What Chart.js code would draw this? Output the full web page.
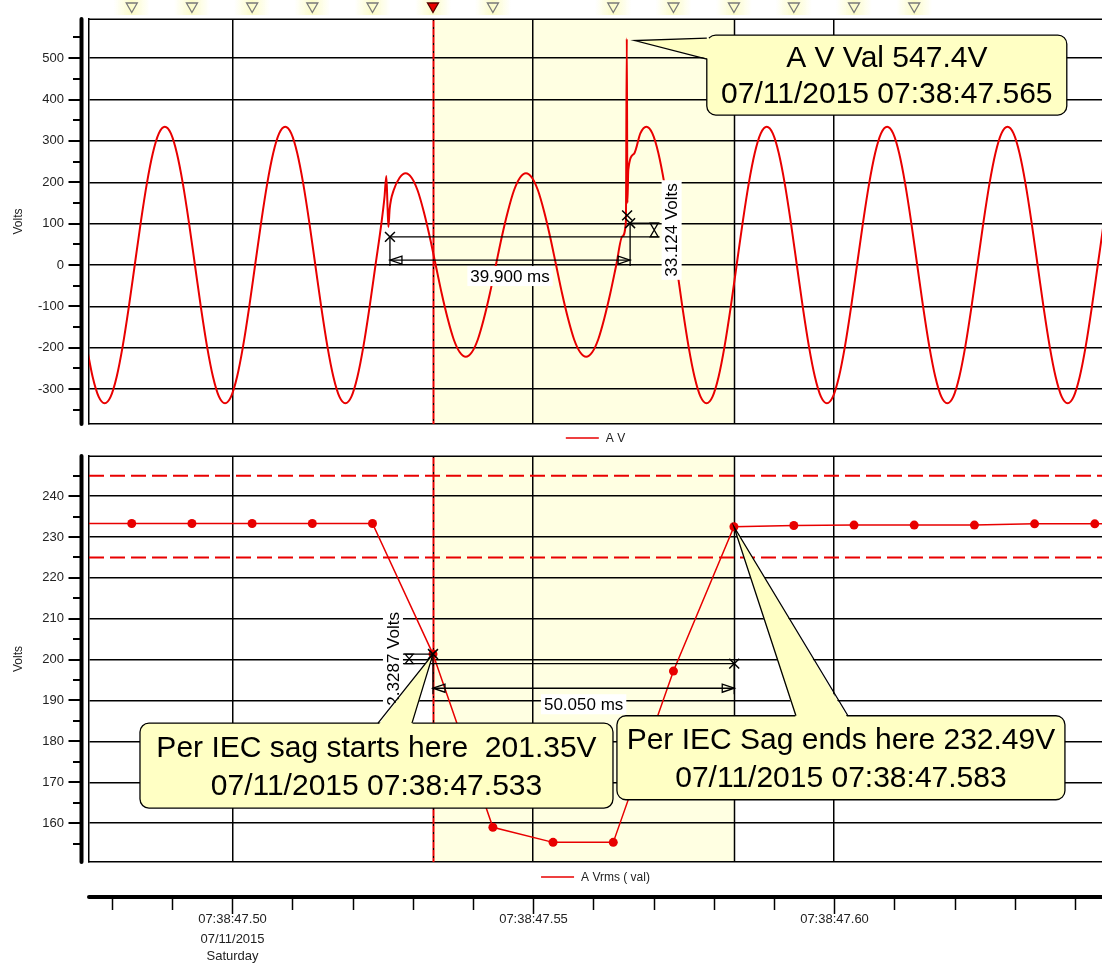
<!DOCTYPE html>
<html>
<head>
<meta charset="utf-8">
<title>A V sag</title>
<script src="https://cdn.jsdelivr.net/npm/chart.js@4.4.1/dist/chart.umd.min.js"></script>
<style>
  body { margin: 0; background: #fff; }
  #page { position: relative; width: 1102px; height: 965px; overflow: hidden; }
  #page canvas { position: absolute; left: 0; }
</style>
</head>
<body>
<div id="page">
  <canvas id="waveChart" width="1102" height="448" style="top:0"></canvas>
  <canvas id="rmsChart" width="1102" height="517" style="top:448px"></canvas>
</div>
<script>
// all times are milliseconds after 07:38:47
const timeMin = 476.2, timeMax = 644.5;
const timeGrid = [500, 550, 600];
const timeMinor = [480, 490, 510, 520, 530, 540, 560, 570, 580, 590, 610, 620, 630, 640];
const timeLabels = [['07:38:47.50', '07/11/2015', 'Saturday'], ['07:38:47.55'], ['07:38:47.60']];

// A V waveform, sampled every 1 ms
const waveStart = 475.8, waveStep = 1;
const waveVolts = [
  -196, -270, -318, -334, -318, -270, -196, -103, 0, 103,
  196, 270, 318, 334, 318, 270, 196, 103, 0, -103,
  -196, -270, -318, -334, -318, -270, -196, -103, 0, 103,
  196, 270, 318, 334, 318, 270, 196, 103, 0, -103,
  -196, -270, -318, -334, -318, -270, -196, -103, 0, 103,
  140, 180, 211, 222, 211, 180, 130, 69, 0, -69,
  -130, -180, -211, -222, -211, -180, -130, -69, 0, 69,
  130, 180, 211, 222, 211, 180, 130, 69, 0, -69,
  -130, -180, -211, -222, -211, -180, -130, -69, 0, 69,
  230, 270, 318, 334, 318, 270, 196, 103, 0, -103,
  -196, -270, -318, -334, -318, -270, -196, -103, 0, 103,
  196, 270, 318, 334, 318, 270, 196, 103, 0, -103,
  -196, -270, -318, -334, -318, -270, -196, -103, 0, 103,
  196, 270, 318, 334, 318, 270, 196, 103, 0, -103,
  -196, -270, -318, -334, -318, -270, -196, -103, 0, 103,
  196, 270, 318, 334, 318, 270, 196, 103, 0, -103,
  -196, -270, -318, -334, -318, -270, -196, -103, 0, 103
];
// transients between the regular samples
const spikeTimes = [525.3, 525.6, 525.95, 526.15, 565.4, 565.55, 565.65];
const spikeVolts = [165, 215, 92, 135, 105, 547.4, 150];

// A Vrms (val)
const rmsTimes = [473.3, 483.3, 493.3, 503.3, 513.3, 523.3, 533.35, 543.3, 553.3, 563.3, 573.3, 583.35, 593.3, 603.3, 613.3, 623.3, 633.3, 643.3, 653.3];
const rmsVolts = [233.3, 233.3, 233.3, 233.3, 233.3, 233.3, 201.35, 159.0, 155.3, 155.3, 197.2, 232.49, 232.8, 232.9, 232.9, 232.9, 233.2, 233.2, 233.2];
const limitHigh = 245, limitLow = 225;

const sagStart = 533.35, sagEnd = 583.35;
const eventTimes = [483.3, 493.3, 503.3, 513.3, 523.3, 533.35, 543.3, 563.3, 573.3, 583.35, 593.3, 603.3, 613.3];
const selectedEvent = 533.35;

const waveRange = [-384.3, 594.6];
const waveTicks = [-300, -200, -100, 0, 100, 200, 300, 400, 500];
const waveMinor = [-350, -250, -150, -50, 50, 150, 250, 350, 450, 550];
const rmsRange = [150.5, 249.8];
const rmsTicks = [160, 170, 180, 190, 200, 210, 220, 230, 240];
const rmsMinor = [155, 165, 175, 185, 195, 205, 215, 225, 235, 245];

const waveCursorTimes = [526.2, 566.1, 565.6];
const waveCursorVolts = [68, 101.1, 120];
const rmsCursorTimes = [533.35, 583.4];
const rmsCursorVolts = [201.35, 199.02];

const waveMeasure = { t1: 526.2, v1: 68, t2: 566.1, v2: 101.1, arrowV: 12, levelEndT: 571.0, bracketT: 570.1, dvLabelT: 573.0, dtLabel: '39.900 ms', dvLabel: '33.124 Volts' };
const rmsMeasure = { t1: 533.35, v1: 201.35, t2: 583.4, v2: 199.02, arrowV: 193.0, levelEndT: 527.85, bracketT: 529.4, dvLabelT: 526.7, dtLabel: '50.050 ms', dvLabel: '2.3287 Volts' };

const waveCallout = { t: 565.55, v: 547.4, lines: ['A V Val 547.4V', '07/11/2015 07:38:47.565'] };
const sagStartCallout = { t: 533.35, v: 201.35, lines: ['Per IEC sag starts here  201.35V', '07/11/2015 07:38:47.533'] };
const sagEndCallout = { t: 583.35, v: 232.49, lines: ['Per IEC Sag ends here 232.49V', '07/11/2015 07:38:47.583'] };

// pixel geometry of the callouts, relative to their anchor point
const calloutLayout = {
  wave: { apex: [8, 2], box: [80, -3.5, 360, 80], base: 'left', span: [3, 24] },
  sagStart: { apex: [0, 0], box: [-293, 69, 473, 85], base: 'top', span: [238, 272] },
  sagEnd: { apex: [0, 0], box: [-117, 189, 448, 84], base: 'top', span: [179, 231] }
};

const FONT = 'Arial, "Liberation Sans", sans-serif';
const RED = '#e80000';
const SHADE = '#ffffe2';
const CALLOUT_FILL = '#ffffc4';

Chart.defaults.font.family = FONT;

function seg(ctx, x1, y1, x2, y2) {
  ctx.beginPath();
  ctx.moveTo(x1, y1);
  ctx.lineTo(x2, y2);
  ctx.stroke();
}

function drawShade(chart) {
  const { ctx, chartArea: a, scales: { x } } = chart;
  const x1 = x.getPixelForValue(sagStart), x2 = x.getPixelForValue(sagEnd);
  ctx.save();
  ctx.fillStyle = SHADE;
  ctx.fillRect(x1, a.top, x2 - x1, a.bottom - a.top);
  ctx.restore();
}

function drawSagEdges(chart) {
  const { ctx, chartArea: a, scales: { x } } = chart;
  const x1 = Math.round(x.getPixelForValue(sagStart)) + 0.5;
  const x2 = Math.round(x.getPixelForValue(sagEnd)) + 0.5;
  ctx.save();
  ctx.strokeStyle = '#000';
  ctx.lineWidth = 1.5;
  seg(ctx, x2, a.top, x2, a.bottom);
  ctx.strokeStyle = RED;
  ctx.lineWidth = 2;
  seg(ctx, x1, a.top, x1, a.bottom);
  ctx.strokeStyle = '#000';
  ctx.lineWidth = 1;
  ctx.setLineDash([2, 6]);
  seg(ctx, x1, a.top, x1, a.bottom);
  ctx.restore();
}

function drawRail(chart, majors, minors) {
  const { ctx, chartArea: a, scales: { y } } = chart;
  const rx = a.left - 7.5;
  ctx.save();
  ctx.strokeStyle = '#000';
  ctx.lineWidth = 1.5;
  seg(ctx, a.left, a.top + 0.25, a.right, a.top + 0.25);
  ctx.lineWidth = 4;
  ctx.lineCap = 'round';
  seg(ctx, rx, a.top, rx, a.bottom);
  ctx.lineCap = 'butt';
  ctx.lineWidth = 2;
  majors.forEach(v => {
    const py = Math.round(y.getPixelForValue(v));
    seg(ctx, rx - 13, py, rx, py);
  });
  minors.forEach(v => {
    const py = Math.round(y.getPixelForValue(v));
    seg(ctx, rx - 8.5, py, rx, py);
  });
  ctx.restore();
}

function drawEventStrip(chart) {
  const { ctx, scales: { x } } = chart;
  ctx.save();
  eventTimes.forEach(t => {
    const cx = x.getPixelForValue(t);
    const g = ctx.createLinearGradient(cx - 18, 0, cx + 18, 0);
    g.addColorStop(0, 'rgba(253,253,205,0)');
    g.addColorStop(0.5, 'rgba(251,251,200,1)');
    g.addColorStop(1, 'rgba(253,253,205,0)');
    ctx.fillStyle = g;
    ctx.fillRect(cx - 18, 0, 36, 15);
    ctx.beginPath();
    ctx.moveTo(cx - 5.5, 3);
    ctx.lineTo(cx + 5.5, 3);
    ctx.lineTo(cx, 12.5);
    ctx.closePath();
    ctx.lineWidth = 1.3;
    if (t === selectedEvent) {
      ctx.fillStyle = RED;
      ctx.fill();
      ctx.strokeStyle = '#500';
    } else {
      ctx.strokeStyle = '#7a7a7a';
    }
    ctx.stroke();
  });
  ctx.restore();
}

function arrowHead(ctx, tx, ty, dir) {
  ctx.beginPath();
  ctx.moveTo(tx, ty);
  ctx.lineTo(tx + dir * 12, ty - 4);
  ctx.lineTo(tx + dir * 12, ty + 4);
  ctx.closePath();
  ctx.stroke();
}

function hourglass(ctx, bx, ya, yb) {
  const top = Math.min(ya, yb), bot = Math.max(ya, yb), mid = (top + bot) / 2;
  ctx.beginPath();
  ctx.moveTo(bx - 4, top); ctx.lineTo(bx + 4, top); ctx.lineTo(bx, mid); ctx.closePath();
  ctx.moveTo(bx - 4, bot); ctx.lineTo(bx + 4, bot); ctx.lineTo(bx, mid); ctx.closePath();
  ctx.stroke();
}

function boxedText(ctx, text, cx, cy, rot) {
  ctx.save();
  ctx.translate(cx, cy);
  ctx.rotate(rot);
  ctx.font = '17px ' + FONT;
  const w = ctx.measureText(text).width;
  ctx.fillStyle = '#fff';
  ctx.fillRect(-w / 2 - 3, -10, w + 6, 20);
  ctx.fillStyle = '#000';
  ctx.textAlign = 'center';
  ctx.textBaseline = 'middle';
  ctx.fillText(text, 0, 1);
  ctx.restore();
}

function drawMeasure(chart, m) {
  const { ctx, scales: { x, y } } = chart;
  const x1 = x.getPixelForValue(m.t1), y1 = y.getPixelForValue(m.v1);
  const x2 = x.getPixelForValue(m.t2), y2 = y.getPixelForValue(m.v2);
  const ay = y.getPixelForValue(m.arrowV);
  const ex = x.getPixelForValue(m.levelEndT);
  ctx.save();
  ctx.strokeStyle = '#000';
  ctx.lineWidth = 1.3;
  seg(ctx, x1, y1, ex, y1);
  seg(ctx, x2, y2, ex, y2);
  seg(ctx, x1, y1, x1, ay + 6);
  seg(ctx, x2, y2, x2, ay + 6);
  seg(ctx, x1, ay, x2, ay);
  arrowHead(ctx, x1, ay, 1);
  arrowHead(ctx, x2, ay, -1);
  hourglass(ctx, x.getPixelForValue(m.bracketT), y1, y2);
  boxedText(ctx, m.dtLabel, (x1 + x2) / 2, ay + 16, 0);
  boxedText(ctx, m.dvLabel, x.getPixelForValue(m.dvLabelT), (y1 + y2) / 2, -Math.PI / 2);
  ctx.restore();
}

function roundRectPath(ctx, x, y, w, h, r) {
  ctx.beginPath();
  ctx.moveTo(x + r, y);
  ctx.arcTo(x + w, y, x + w, y + h, r);
  ctx.arcTo(x + w, y + h, x, y + h, r);
  ctx.arcTo(x, y + h, x, y, r);
  ctx.arcTo(x, y, x + w, y, r);
  ctx.closePath();
}

function drawCallout(chart, c, l) {
  const { ctx, scales: { x, y } } = chart;
  const ax = x.getPixelForValue(c.t), ay = y.getPixelForValue(c.v);
  const tip = [ax + l.apex[0], ay + l.apex[1]];
  const bx = ax + l.box[0], by = ay + l.box[1], bw = l.box[2], bh = l.box[3];
  let b1, b2, inset;
  if (l.base === 'left') {
    b1 = [bx, by + l.span[0]]; b2 = [bx, by + l.span[1]]; inset = [2.5, 0];
  } else {
    b1 = [bx + l.span[0], by]; b2 = [bx + l.span[1], by]; inset = [0, 2.5];
  }
  ctx.save();
  ctx.fillStyle = CALLOUT_FILL;
  ctx.strokeStyle = '#000';
  ctx.lineWidth = 1.3;
  roundRectPath(ctx, bx, by, bw, bh, 9);
  ctx.fill();
  ctx.stroke();
  ctx.beginPath();
  ctx.moveTo(tip[0], tip[1]);
  ctx.lineTo(b1[0] + inset[0], b1[1] + inset[1]);
  ctx.lineTo(b2[0] + inset[0], b2[1] + inset[1]);
  ctx.closePath();
  ctx.fill();
  ctx.beginPath();
  ctx.moveTo(b1[0], b1[1]);
  ctx.lineTo(tip[0], tip[1]);
  ctx.lineTo(b2[0], b2[1]);
  ctx.stroke();
  ctx.fillStyle = '#000';
  ctx.font = '30px ' + FONT;
  ctx.textAlign = 'center';
  ctx.textBaseline = 'middle';
  ctx.fillText(c.lines[0], bx + bw / 2, by + bh * 0.3);
  ctx.fillText(c.lines[1], bx + bw / 2, by + bh * 0.75);
  ctx.restore();
}

function drawLegend(chart, text, cy) {
  const { ctx, chartArea: a } = chart;
  ctx.save();
  ctx.font = '12px ' + FONT;
  const tw = ctx.measureText(text).width;
  const x0 = (a.left + a.right) / 2 - (40 + tw) / 2;
  ctx.strokeStyle = RED;
  ctx.lineWidth = 1.5;
  seg(ctx, x0, cy, x0 + 33, cy);
  ctx.fillStyle = '#222';
  ctx.textBaseline = 'middle';
  ctx.fillText(text, x0 + 40, cy + 1);
  ctx.restore();
}

function drawTimeAxis(chart) {
  const { ctx, chartArea: a, scales: { x } } = chart;
  const ay = a.bottom + 35;
  ctx.save();
  ctx.strokeStyle = '#000';
  ctx.lineWidth = 4;
  ctx.lineCap = 'round';
  seg(ctx, a.left, ay, a.right + 4, ay);
  ctx.lineCap = 'butt';
  ctx.lineWidth = 1.5;
  timeMinor.forEach(t => {
    const px = Math.round(x.getPixelForValue(t)) + 0.5;
    seg(ctx, px, ay, px, ay + 13);
  });
  ctx.font = '13px ' + FONT;
  ctx.fillStyle = '#222';
  ctx.textAlign = 'center';
  ctx.textBaseline = 'middle';
  timeGrid.forEach((t, i) => {
    const px = Math.round(x.getPixelForValue(t)) + 0.5;
    seg(ctx, px, ay, px, ay + 17);
    [22, 42, 59].forEach((dy, j) => {
      if (timeLabels[i][j]) ctx.fillText(timeLabels[i][j], px, ay + dy);
    });
  });
  ctx.restore();
}

function xScale() {
  return {
    type: 'linear',
    min: timeMin,
    max: timeMax,
    afterBuildTicks: s => { s.ticks = timeGrid.map(v => ({ value: v })); },
    afterFit: s => { s.height = 0; },
    ticks: { display: false },
    grid: { color: '#000', lineWidth: 1.5, drawTicks: false },
    border: { color: '#000', width: 1.5 }
  };
}

function yScale(range, ticks) {
  return {
    min: range[0],
    max: range[1],
    afterBuildTicks: s => { s.ticks = ticks.map(v => ({ value: v })); },
    afterFit: s => { s.width = 89; },
    ticks: { padding: 0, color: '#222', font: { size: 13 } },
    grid: { color: '#000', lineWidth: 1.5, drawTicks: true, tickLength: 25, tickColor: 'rgba(0,0,0,0)' },
    border: { color: '#000', width: 1.5 },
    title: { display: true, text: 'Volts', color: '#222', font: { size: 12 }, padding: { top: 11, bottom: 0 } }
  };
}

function cursorSet(times, volts) {
  return {
    data: times.map((t, i) => ({ x: t, y: volts[i] })),
    showLine: false,
    pointStyle: 'crossRot',
    pointRadius: 7,
    pointBorderColor: '#000',
    pointBorderWidth: 1.5,
    order: 0
  };
}

const wavePoints = waveVolts.map((v, i) => ({ x: waveStart + i * waveStep, y: v }))
  .concat(spikeTimes.map((t, i) => ({ x: t, y: spikeVolts[i] })))
  .sort((p, q) => p.x - q.x);

new Chart(document.getElementById('waveChart'), {
  type: 'line',
  data: {
    datasets: [
      cursorSet(waveCursorTimes, waveCursorVolts),
      {
        label: 'A V',
        data: wavePoints,
        borderColor: RED,
        borderWidth: 2,
        pointRadius: 0,
        cubicInterpolationMode: 'monotone',
        order: 1
      }
    ]
  },
  options: {
    responsive: false,
    animation: false,
    devicePixelRatio: 1,
    layout: { autoPadding: false, padding: { top: 19, right: 0, bottom: 24, left: 0 } },
    scales: { x: xScale(), y: yScale(waveRange, waveTicks) },
    plugins: { legend: { display: false }, tooltip: { enabled: false } }
  },
  plugins: [{
    id: 'waveDecor',
    beforeDraw(chart) { drawShade(chart); drawEventStrip(chart); },
    beforeDatasetsDraw(chart) { drawSagEdges(chart); drawRail(chart, waveTicks, waveMinor); },
    afterDatasetsDraw(chart) {
      drawMeasure(chart, waveMeasure);
      drawCallout(chart, waveCallout, calloutLayout.wave);
      drawLegend(chart, 'A V', chart.chartArea.bottom + 14);
    }
  }]
});

new Chart(document.getElementById('rmsChart'), {
  type: 'line',
  data: {
    datasets: [
      cursorSet(rmsCursorTimes, rmsCursorVolts),
      {
        label: 'A Vrms ( val)',
        data: rmsTimes.map((t, i) => ({ x: t, y: rmsVolts[i] })),
        borderColor: RED,
        borderWidth: 1.5,
        pointRadius: 4.5,
        pointBackgroundColor: RED,
        pointBorderColor: RED,
        pointBorderWidth: 0,
        order: 1
      },
      {
        data: [{ x: timeMin, y: limitHigh }, { x: timeMax, y: limitHigh }],
        borderColor: RED, borderWidth: 2, borderDash: [15, 6], pointRadius: 0, order: 2
      },
      {
        data: [{ x: timeMin, y: limitLow }, { x: timeMax, y: limitLow }],
        borderColor: RED, borderWidth: 2, borderDash: [15, 6], pointRadius: 0, order: 2
      }
    ]
  },
  options: {
    responsive: false,
    animation: false,
    devicePixelRatio: 1,
    layout: { autoPadding: false, padding: { top: 8, right: 0, bottom: 103, left: 0 } },
    scales: { x: xScale(), y: yScale(rmsRange, rmsTicks) },
    plugins: { legend: { display: false }, tooltip: { enabled: false } }
  },
  plugins: [{
    id: 'rmsDecor',
    beforeDraw(chart) { drawShade(chart); },
    beforeDatasetsDraw(chart) { drawSagEdges(chart); drawRail(chart, rmsTicks, rmsMinor); },
    afterDatasetsDraw(chart) {
      drawMeasure(chart, rmsMeasure);
      drawCallout(chart, sagStartCallout, calloutLayout.sagStart);
      drawCallout(chart, sagEndCallout, calloutLayout.sagEnd);
      drawLegend(chart, 'A Vrms ( val)', chart.chartArea.bottom + 15);
      drawTimeAxis(chart);
    }
  }]
});
</script>
</body>
</html>
